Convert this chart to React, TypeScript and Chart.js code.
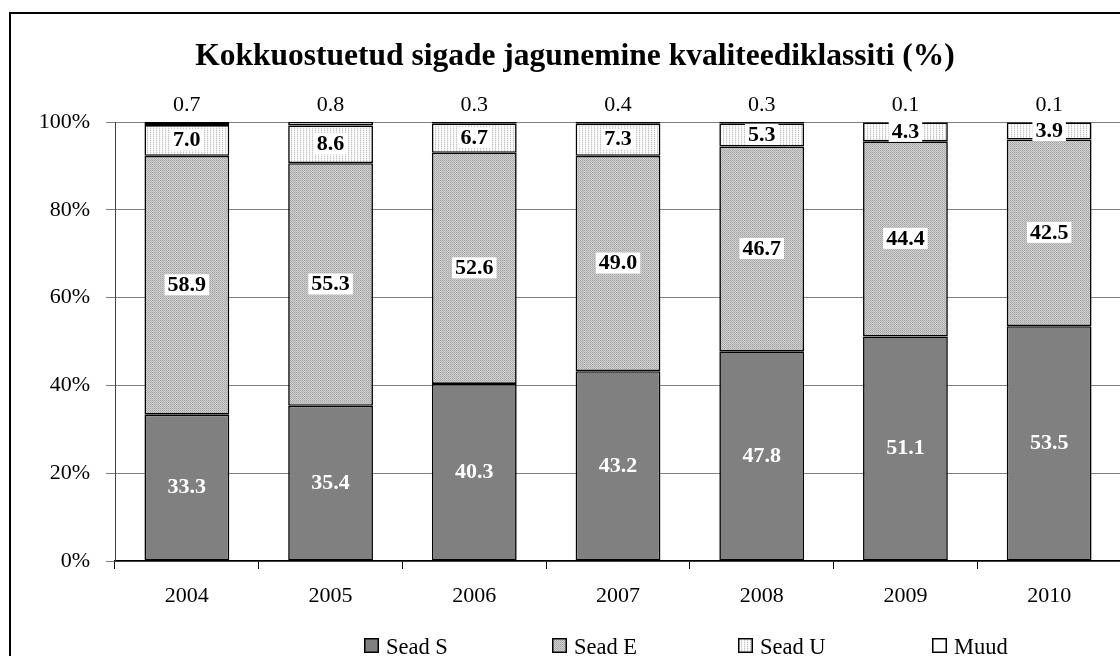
import { useEffect, useRef } from "react";
import { Chart, registerables } from "chart.js";

Chart.register(...registerables);

const years = ["2004", "2005", "2006", "2007", "2008", "2009", "2010"];
const seadS = [33.3, 35.4, 40.3, 43.2, 47.8, 51.1, 53.5];
const seadE = [58.9, 55.3, 52.6, 49.0, 46.7, 44.4, 42.5];
const seadU = [7.0, 8.6, 6.7, 7.3, 5.3, 4.3, 3.9];
const muud = [0.7, 0.8, 0.3, 0.4, 0.3, 0.1, 0.1];
const seriesNames = ["Sead S", "Sead E", "Sead U", "Muud"];
const yTicks = [0, 20, 40, 60, 80, 100];
const chartTitle = "Kokkuostuetud sigade jagunemine kvaliteediklassiti (%)";

const SERIF = '"Liberation Serif", "Times New Roman", serif';
const W = 1121;
const H = 656;

function makePattern(kind: "E" | "U"): CanvasPattern | string {
  const c = document.createElement("canvas");
  const ctx = c.getContext("2d");
  if (!ctx) return "#bbbbbb";
  if (kind === "E") {
    c.width = 2;
    c.height = 2;
    ctx.fillStyle = "#cfcfcf";
    ctx.fillRect(0, 0, 2, 2);
    ctx.fillStyle = "#a4a4a4";
    ctx.fillRect(0, 0, 1, 1);
    ctx.fillStyle = "#b4b4b4";
    ctx.fillRect(1, 1, 1, 1);
  } else {
    c.width = 3;
    c.height = 2;
    ctx.fillStyle = "#ffffff";
    ctx.fillRect(0, 0, 3, 2);
    ctx.fillStyle = "#c4c4c4";
    ctx.fillRect(0, 0, 1, 1);
    ctx.fillStyle = "#e6e6e6";
    ctx.fillRect(0, 1, 1, 1);
    ctx.fillStyle = "#f2f2f2";
    ctx.fillRect(1, 0, 1, 1);
  }
  const p = ctx.createPattern(c, "repeat");
  return p || "#bbbbbb";
}

export default function App() {
  const ref = useRef<HTMLCanvasElement | null>(null);

  useEffect(() => {
    if (!ref.current) return;
    const raw = [seadS, seadE, seadU, muud];
    const totals = years.map((_, i) => raw.reduce((s, arr) => s + arr[i], 0));
    const norm = raw.map((arr) => arr.map((v, i) => (v / totals[i]) * 100));
    const fills: (CanvasPattern | string)[] = ["#808080", makePattern("E"), makePattern("U"), "#ffffff"];

    const deco = {
      id: "deco",
      beforeDraw(chart: any) {
        const ctx = chart.ctx;
        ctx.save();
        ctx.strokeStyle = "#000";
        ctx.lineWidth = 2;
        ctx.beginPath();
        ctx.moveTo(10, H + 5);
        ctx.lineTo(10, 13);
        ctx.lineTo(W + 5, 13);
        ctx.stroke();
        ctx.fillStyle = "#000";
        ctx.font = `bold 31.5px ${SERIF}`;
        ctx.textAlign = "center";
        ctx.textBaseline = "alphabetic";
        ctx.fillText(chartTitle, 575, 65);
        ctx.restore();
      },
      afterDatasetsDraw(chart: any) {
        const ctx = chart.ctx;
        ctx.save();
        ctx.textAlign = "center";
        for (let di = 0; di < 4; di++) {
          const meta = chart.getDatasetMeta(di);
          meta.data.forEach((el: any, i: number) => {
            const { x, y, base } = el.getProps(["x", "y", "base"], true);
            const txt = raw[di][i].toFixed(1);
            const cy = (y + base) / 2;
            if (di === 0) {
              ctx.font = `bold 22px ${SERIF}`;
              ctx.fillStyle = "#ffffff";
              ctx.textBaseline = "middle";
              ctx.fillText(txt, x, cy);
            } else if (di === 1 || di === 2) {
              ctx.font = `bold 22px ${SERIF}`;
              const tw = ctx.measureText(txt).width;
              ctx.fillStyle = "#ffffff";
              ctx.fillRect(x - tw / 2 - 3, cy - 11, tw + 6, 21);
              ctx.fillStyle = "#000";
              ctx.textBaseline = "middle";
              ctx.fillText(txt, x, cy);
            } else {
              ctx.font = `22px ${SERIF}`;
              ctx.fillStyle = "#000";
              ctx.textBaseline = "alphabetic";
              ctx.fillText(txt, x, Math.min(y, base) - 11);
            }
          });
        }
        ctx.restore();
      },
      afterDraw(chart: any) {
        const ctx = chart.ctx;
        ctx.save();
        const xs = [364, 552, 738, 932];
        seriesNames.forEach((name, i) => {
          const sx = xs[i];
          ctx.fillStyle = fills[i];
          ctx.fillRect(sx, 638, 15, 15);
          ctx.strokeStyle = "#000";
          ctx.lineWidth = 1.5;
          ctx.strokeRect(sx + 0.75, 638.75, 13.5, 13.5);
          ctx.fillStyle = "#000";
          ctx.font = `22.5px ${SERIF}`;
          ctx.textAlign = "left";
          ctx.textBaseline = "alphabetic";
          ctx.fillText(name, sx + 22, 654);
        });
        ctx.restore();
      },
    };

    const chart = new Chart(ref.current, {
      type: "bar",
      data: {
        labels: years,
        datasets: seriesNames.map((name, di) => ({
          label: name,
          data: norm[di],
          backgroundColor: fills[di] as any,
          borderColor: "#000",
          borderWidth: 1.6,
          borderSkipped: false,
          categoryPercentage: 1,
          barPercentage: 0.59,
        })),
      },
      options: {
        responsive: false,
        animation: false,
        events: [],
        layout: { padding: { top: 122, left: 0, right: 0, bottom: 0 } },
        plugins: {
          legend: { display: false },
          title: { display: false },
          tooltip: { enabled: false },
        },
        scales: {
          x: {
            stacked: true,
            afterFit: (s: any) => {
              s.height = 95;
            },
            grid: {
              display: true,
              drawOnChartArea: false,
              drawTicks: true,
              tickLength: 8,
              color: "#000",
              offset: true,
            },
            border: { display: true, color: "#000", width: 1.5 },
            ticks: {
              color: "#000",
              font: { family: SERIF, size: 22 },
              padding: 14,
            },
          },
          y: {
            stacked: true,
            min: 0,
            max: 100,
            afterFit: (s: any) => {
              s.width = 115;
            },
            afterBuildTicks: (s: any) => {
              s.ticks = yTicks.map((v) => ({ value: v }));
            },
            grid: {
              color: "#808080",
              lineWidth: 1,
              drawTicks: true,
              tickLength: 9,
            },
            border: { display: true, color: "#404040", width: 1 },
            ticks: {
              color: "#000",
              font: { family: SERIF, size: 22 },
              padding: 16,
              callback: (v: any) => `${v}%`,
            },
          },
        },
      },
      plugins: [deco],
    });

    return () => chart.destroy();
  }, []);

  return (
    <div
      style={{
        position: "fixed",
        left: 0,
        top: 0,
        width: 1120,
        height: 656,
        overflow: "hidden",
        background: "#fff",
      }}
    >
      <canvas ref={ref} width={W} height={H} style={{ display: "block" }} />
    </div>
  );
}
